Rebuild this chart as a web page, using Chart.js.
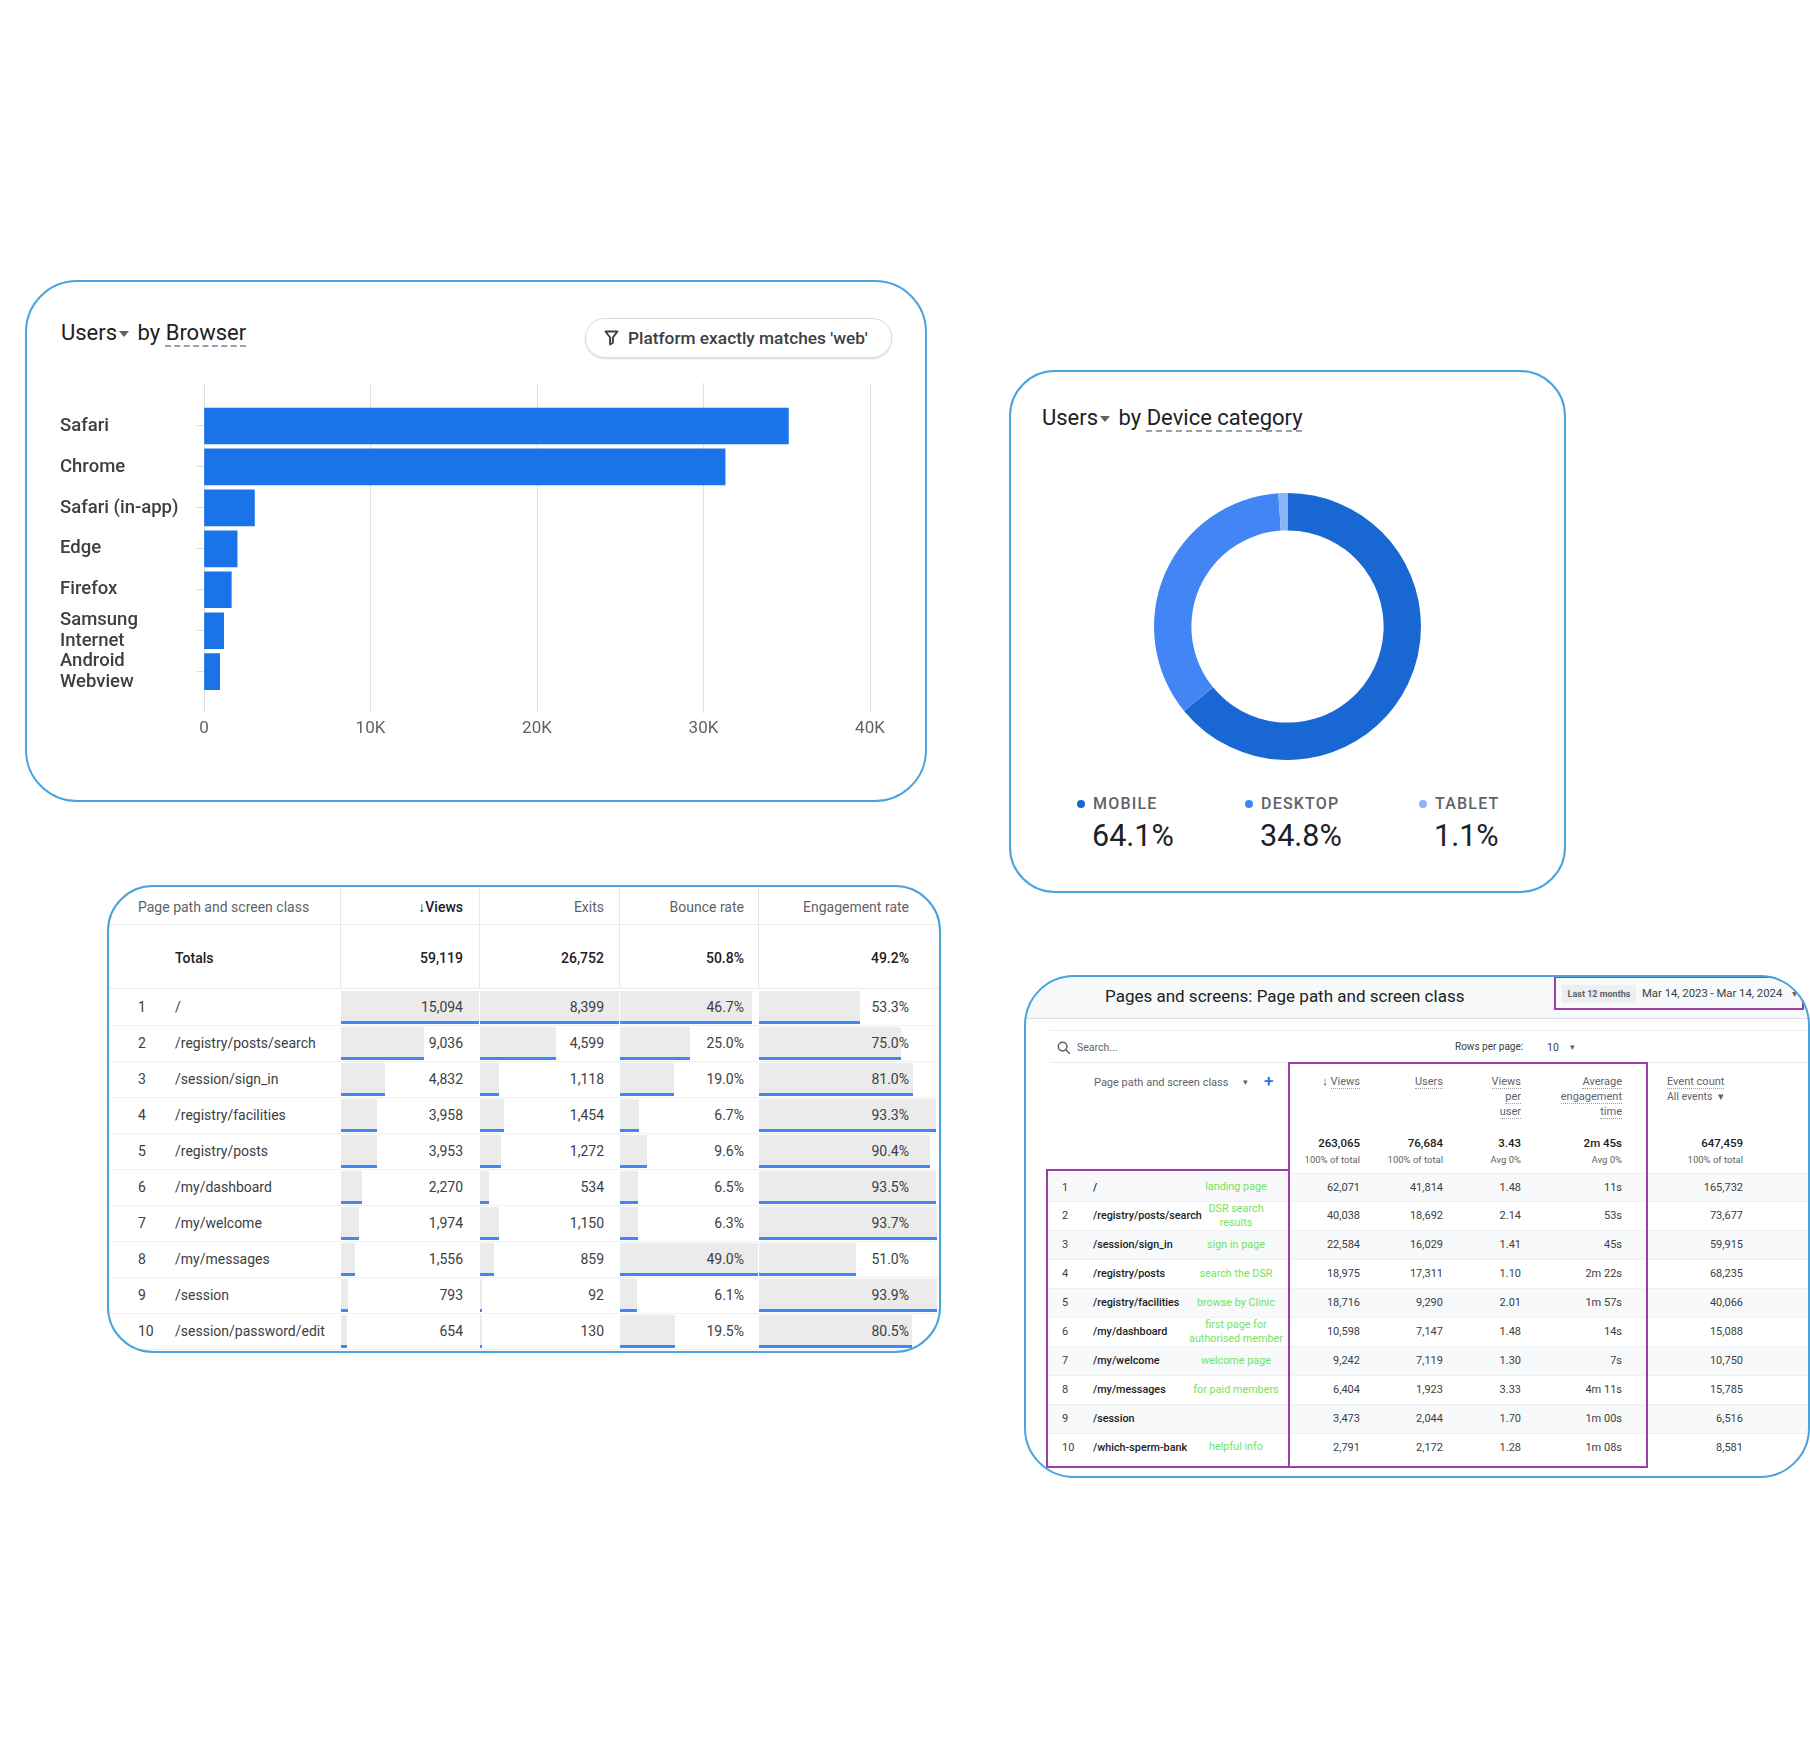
<!DOCTYPE html>
<html>
<head>
<meta charset="utf-8">
<title>Analytics overview</title>
<script src="https://cdn.jsdelivr.net/npm/chart.js@4.4.1/dist/chart.umd.min.js"></script>
<style>
body { margin: 0; width: 1810px; height: 1760px; position: relative; overflow: hidden; background: #fff; font-family: Roboto, "Noto Sans", sans-serif; }
.box { position: absolute; overflow: hidden; background: #fff; }
.edge { position: absolute; box-sizing: border-box; border: 2px solid #4aa3df; pointer-events: none; }
.t { position: absolute; white-space: nowrap; }
.r { position: absolute; }
.dash { text-decoration: underline dashed #9aa0a6 1.5px; text-underline-offset: 5px; }
.dot { border-bottom: 1px dotted #9aa0a6; }
.caret { display: inline-block; width: 0; height: 0; border-left: 5.5px solid transparent; border-right: 5.5px solid transparent; border-top: 6px solid #5f6368; vertical-align: middle; margin: 0 3px 0 2px; }
</style>
</head>
<body>
<script>
// ---- data ----
const browserNames = ['Safari', 'Chrome', 'Safari (in-app)', 'Edge', 'Firefox', ['Samsung', 'Internet'], ['Android', 'Webview']];
const browserUsers = [35100, 31300, 3030, 1990, 1640, 1180, 940];
const usersAxisMax = 40000;
const usersAxisStep = 10000;

const deviceNames = ['MOBILE', 'DESKTOP', 'TABLET'];
const deviceShares = [64.1, 34.8, 1.1];

const pagePaths = ['/', '/registry/posts/search', '/session/sign_in', '/registry/facilities', '/registry/posts',
	'/my/dashboard', '/my/welcome', '/my/messages', '/session', '/session/password/edit'];
const pageViews = [15094, 9036, 4832, 3958, 3953, 2270, 1974, 1556, 793, 654];
const pageExits = [8399, 4599, 1118, 1454, 1272, 534, 1150, 859, 92, 130];
const bounceRates = [46.7, 25.0, 19.0, 6.7, 9.6, 6.5, 6.3, 49.0, 6.1, 19.5];
const engagementRates = [53.3, 75.0, 81.0, 93.3, 90.4, 93.5, 93.7, 51.0, 93.9, 80.5];
const pageTotals = [59119, 26752, 50.8, 49.2];

const screenPaths = ['/', '/registry/posts/search', '/session/sign_in', '/registry/posts', '/registry/facilities',
	'/my/dashboard', '/my/welcome', '/my/messages', '/session', '/which-sperm-bank'];
const screenNotes = [['landing page'], ['DSR search', 'results'], ['sign in page'], ['search the DSR'], ['browse by Clinic'],
	['first page for', 'authorised member'], ['welcome page'], ['for paid members'], [], ['helpful info']];
const screenViews = [62071, 40038, 22584, 18975, 18716, 10598, 9242, 6404, 3473, 2791];
const screenUsers = [41814, 18692, 16029, 17311, 9290, 7147, 7119, 1923, 2044, 2172];
const viewsPerUser = [1.48, 2.14, 1.41, 1.10, 2.01, 1.48, 1.30, 3.33, 1.70, 1.28];
const avgEngagement = ['11s', '53s', '45s', '2m 22s', '1m 57s', '14s', '7s', '4m 11s', '1m 00s', '1m 08s'];
const eventCounts = [165732, 73677, 59915, 68235, 40066, 15088, 10750, 15785, 6516, 8581];
const screenTotals = ['263,065', '76,684', '3.43', '2m 45s', '647,459'];
const screenTotalNotes = ['100% of total', '100% of total', 'Avg 0%', 'Avg 0%', '100% of total'];

// ---- styles ----
const barBlue = '#1a73e8';
const deviceColors = ['#1967d2', '#4285f4', '#8ab4f8'];

Chart.defaults.font.family = 'Roboto';

const fmtInt = v => v.toLocaleString('en-US');
const fmtPct = v => v.toFixed(1) + '%';

// ---- tiny layout helpers (page coordinates) ----
let cur = { el: document.body, x: 0, y: 0 };

function card(x, y, w, h, r)
{
	const d = document.createElement('div');
	d.className = 'box';
	Object.assign(d.style, { left: x + 'px', top: y + 'px', width: w + 'px', height: h + 'px', borderRadius: r + 'px' });
	document.body.appendChild(d);
	cur = { el: d, x: x, y: y, w: w, h: h, r: r };
}

function end_card()
{
	const e = document.createElement('div');
	e.className = 'edge';
	Object.assign(e.style, { left: cur.x + 'px', top: cur.y + 'px', width: cur.w + 'px', height: cur.h + 'px', borderRadius: cur.r + 'px' });
	document.body.appendChild(e);
	cur = { el: document.body, x: 0, y: 0 };
}

function rect(x, y, w, h, bg, extra)
{
	const d = document.createElement('div');
	d.className = 'r';
	Object.assign(d.style, { left: (x - cur.x) + 'px', top: (y - cur.y) + 'px', width: w + 'px', height: h + 'px', background: bg }, extra || {});
	cur.el.appendChild(d);
	return d;
}

function text(html, x, cy, o = {})
{
	const size = o.size || 14;
	const lh = o.lh || Math.round(size * 1.4);
	const lines = o.lines || 1;
	const d = document.createElement('div');
	d.className = 't';
	d.style.font = (o.weight || 400) + ' ' + size + 'px Roboto';
	d.style.color = o.color || '#3c4043';
	d.style.lineHeight = lh + 'px';
	let left = x;
	if (o.align === 'right') { left = x - 500; d.style.width = '500px'; d.style.textAlign = 'right'; }
	if (o.align === 'center') { left = x - 250; d.style.width = '500px'; d.style.textAlign = 'center'; }
	if (o.ls) d.style.letterSpacing = o.ls + 'px';
	d.style.left = (left - cur.x) + 'px';
	d.style.top = (cy - lh * lines / 2 - cur.y) + 'px';
	d.innerHTML = html;
	cur.el.appendChild(d);
	return d;
}

function canvas(x, y, w, h)
{
	const c = document.createElement('canvas');
	c.width = w;
	c.height = h;
	Object.assign(c.style, { position: 'absolute', left: (x - cur.x) + 'px', top: (y - cur.y) + 'px', width: w + 'px', height: h + 'px' });
	cur.el.appendChild(c);
	return c;
}

// ---- Users by Browser ----
card(25, 280, 902, 522, 52);
text('Users<span class="caret"></span> by <span class="dash">Browser</span>', 61, 333, { size: 22, color: '#202124', lh: 28 });
rect(585, 318, 307, 40, '#fff', { border: '1px solid #dadce0', borderRadius: '20px', boxSizing: 'border-box', boxShadow: '0 1px 2px rgba(60,64,67,0.18)' });
rect(604, 330, 15, 16, 'transparent').innerHTML =
	'<svg width="15" height="16" viewBox="0 0 15 16"><path d="M1.5 1.5h12l-4.6 6v5.2l-2.8 1.8v-7z" fill="none" stroke="#3c4043" stroke-width="1.9" stroke-linejoin="round"/></svg>';
text("Platform exactly matches 'web'", 628, 338, { size: 17.3, weight: 500, color: '#3c4043' });

const browserChart = new Chart(canvas(45, 375, 860, 374), {
	type: 'bar',
	data: {
		datasets: [{
			data: browserUsers.map((v, i) => ({ x: v, y: i })),
			backgroundColor: barBlue,
			barThickness: 36,
			borderWidth: 0
		}]
	},
	options: {
		indexAxis: 'y',
		responsive: false,
		animation: false,
		layout: { padding: { left: 15, right: 35, top: 8, bottom: 4 } },
		plugins: { legend: { display: false }, tooltip: { enabled: false } },
		scales: {
			x: {
				type: 'linear',
				position: 'bottom',
				min: 0,
				max: usersAxisMax,
				ticks: {
					stepSize: usersAxisStep,
					color: '#5f6368',
					font: { size: 17 },
					padding: 6,
					callback: v => v === 0 ? '0' : (v / 1000) + 'K'
				},
				grid: { color: '#e0e0e0', drawTicks: false },
				border: { display: false }
			},
			y: {
				type: 'linear',
				position: 'left',
				reverse: true,
				offset: false,
				min: -1.05,
				max: 7,
				afterBuildTicks: axis => { axis.ticks = browserNames.map((n, i) => ({ value: i })); },
				afterFit: axis => {
					axis.width = 144;
					axis.paddingTop = 0;
					axis.paddingBottom = 0;
				},
				ticks: {
					autoSkip: false,
					color: '#3c4043',
					font: { size: 18.5, weight: 500, lineHeight: 1.12 },
					crossAlign: 'far',
					callback: (v, i) => browserNames[i]
				},
				grid: { offset: false, drawOnChartArea: false, color: '#dadce0', tickLength: 7 },
				border: { display: false }
			}
		}
	}
});
end_card();

// ---- Users by Device category ----
card(1009, 370, 557, 523, 46);
text('Users<span class="caret"></span> by <span class="dash">Device category</span>', 1042, 418, { size: 22, color: '#202124', lh: 28 });

const deviceChart = new Chart(canvas(1154, 493, 267, 267), {
	type: 'doughnut',
	data: {
		labels: deviceNames,
		datasets: [{ data: deviceShares, backgroundColor: deviceColors, borderWidth: 0 }]
	},
	options: {
		responsive: false,
		animation: false,
		cutout: '72%',
		plugins: { legend: { display: false }, tooltip: { enabled: false } }
	}
});

const legendX = [1093, 1261, 1435];
deviceNames.forEach((name, i) => {
	rect(legendX[i] - 16, 800, 8, 8, deviceColors[i], { borderRadius: '50%' });
	text(name, legendX[i], 804, { size: 16, weight: 500, color: '#5f6368', ls: 1.2 });
	text(fmtPct(deviceShares[i]), legendX[i] - 1, 836, { size: 30.5, color: '#202124', lh: 40 });
});
end_card();

// ---- page table with in-cell bars ----
card(107, 885, 834, 468, 46);
const pageCols = [
	{ left: 340, right: 479, textRight: 463, head: '↓Views', values: pageViews, fmt: fmtInt },
	{ left: 479, right: 619, textRight: 604, head: 'Exits', values: pageExits, fmt: fmtInt },
	{ left: 619, right: 758, textRight: 744, head: 'Bounce rate', values: bounceRates, fmt: fmtPct },
	{ left: 758, right: 937, textRight: 909, head: 'Engagement rate', values: engagementRates, fmt: fmtPct }
];
text('Page path and screen class', 138, 907, { size: 14, color: '#5f6368' });
text('Totals', 175, 958, { size: 14, weight: 500, color: '#202124' });
rect(107, 924, 834, 1, '#ececec');
rect(107, 988, 834, 1, '#ececec');

pagePaths.forEach((path, i) => {
	const top = 990 + 36 * i;
	text(String(i + 1), 138, top + 17, { size: 14 });
	text(path, 175, top + 17, { size: 14 });
	rect(107, top + 35, 834, 1, '#f0f0f0');
});

pageCols.forEach((col, c) => {
	const max = Math.max(...col.values);
	const span = col.right - col.left - 1;
	rect(col.left, 888, 1, 100, '#e6e6e6');
	const isSorted = c === 0;
	text(col.head, col.textRight, 907, { size: 14, align: 'right', weight: isSorted ? 500 : 400, color: isSorted ? '#202124' : '#5f6368' });
	text(col.fmt(pageTotals[c]), col.textRight, 958, { size: 14, weight: 500, align: 'right', color: '#202124' });
	col.values.forEach((v, i) => {
		const top = 990 + 36 * i;
		const w = span * v / max;
		rect(col.left + 1, top + 1, w, 31, '#ebebeb');
		rect(col.left + 1, top + 31, w, 3, '#4285f4');
		text(col.fmt(v), col.textRight, top + 17, { size: 14, align: 'right' });
	});
});
end_card();

// ---- pages and screens table ----
card(1024, 975, 786, 503, 50);
rect(1024, 975, 786, 43, '#f8f9fa');
rect(1024, 1018, 786, 1, '#dadce0');
text('Pages and screens: Page path and screen class', 1105, 996, { size: 17, color: '#202124' });
rect(1562, 985, 74, 18, '#eceef0', { borderRadius: '2px' });
text('Last 12 months', 1599, 994, { size: 9, weight: 700, color: '#5f6368', align: 'center' });
text('Mar 14, 2023 - Mar 14, 2024', 1642, 994, { size: 11.3, color: '#3c4043' });
text('▾', 1792, 994, { size: 10, color: '#5f6368' });

rect(1050, 1030, 760, 1, '#eceff1');
rect(1050, 1062, 760, 1, '#e8eaed');
rect(1057, 1040, 14, 14, 'transparent').innerHTML =
	'<svg width="14" height="14" viewBox="0 0 14 14"><circle cx="5.6" cy="5.6" r="4.3" fill="none" stroke="#5f6368" stroke-width="1.5"/><path d="M8.8 8.8l4 4" stroke="#5f6368" stroke-width="1.6"/></svg>';
text('Search...', 1077, 1047, { size: 10.5, color: '#5f6368' });
text('Rows per page:', 1455, 1047, { size: 10, color: '#3c4043' });
text('10', 1547, 1047, { size: 10.5, color: '#3c4043' });
text('▾', 1570, 1047, { size: 9, color: '#5f6368' });

text('Page path and screen class', 1094, 1082, { size: 11, color: '#5f6368' });
text('▾', 1243, 1082, { size: 9, color: '#5f6368' });
text('+', 1264, 1081, { size: 17, weight: 500, color: barBlue });

const screenHeads = [['Views'], ['Users'], ['Views', 'per', 'user'], ['Average', 'engagement', 'time']];
const screenRights = [1360, 1443, 1521, 1622, 1743];
screenHeads.forEach((lines, c) => {
	lines.forEach((word, k) => {
		const pre = (c === 0) ? '<span style="color:#3c4043">↓</span> ' : '';
		text(pre + '<span class="dot">' + word + '</span>', screenRights[c], 1082 + 15 * k, { size: 11, color: '#5f6368', align: 'right', lh: 14 });
	});
});
text('<span class="dot">Event count</span>', 1667, 1082, { size: 11, color: '#5f6368', lh: 14 });
text('All events &nbsp;▾', 1667, 1097, { size: 10.5, color: '#5f6368', lh: 14 });

screenTotals.forEach((v, c) => {
	text(v, screenRights[c], 1143, { size: 11.5, weight: 500, color: '#202124', align: 'right' });
	text(screenTotalNotes[c], screenRights[c], 1159, { size: 9.5, color: '#5f6368', align: 'right' });
});

screenPaths.forEach((path, i) => {
	const top = 1172.5 + 28.9 * i;
	const cy = top + 14.5;
	if (i % 2 === 0) rect(1047, top, 763, 29, '#f8f9fa');
	rect(1047, top, 763, 1, '#eef0f2');
	text(String(i + 1), 1062, cy, { size: 11 });
	text(path, 1093, cy, { size: 10.8, weight: 500, color: '#202124' });
	const note = screenNotes[i];
	if (note.length) {
		text(note.join('<br>'), 1236, cy, { size: 10.8, color: '#74e35b', align: 'center', lh: 13.5, lines: note.length });
	}
	const row = [fmtInt(screenViews[i]), fmtInt(screenUsers[i]), viewsPerUser[i].toFixed(2), avgEngagement[i], fmtInt(eventCounts[i])];
	row.forEach((v, c) => text(v, screenRights[c], cy, { size: 11, align: 'right' }));
});

const purple = '2px solid #9c3ea6';
rect(1554, 976, 250, 34, 'transparent', { border: purple, boxSizing: 'border-box' });
rect(1288, 1062, 360, 406, 'transparent', { border: purple, boxSizing: 'border-box' });
rect(1046, 1169, 244, 299, 'transparent', { border: purple, boxSizing: 'border-box' });
end_card();
</script>
</body>
</html>
